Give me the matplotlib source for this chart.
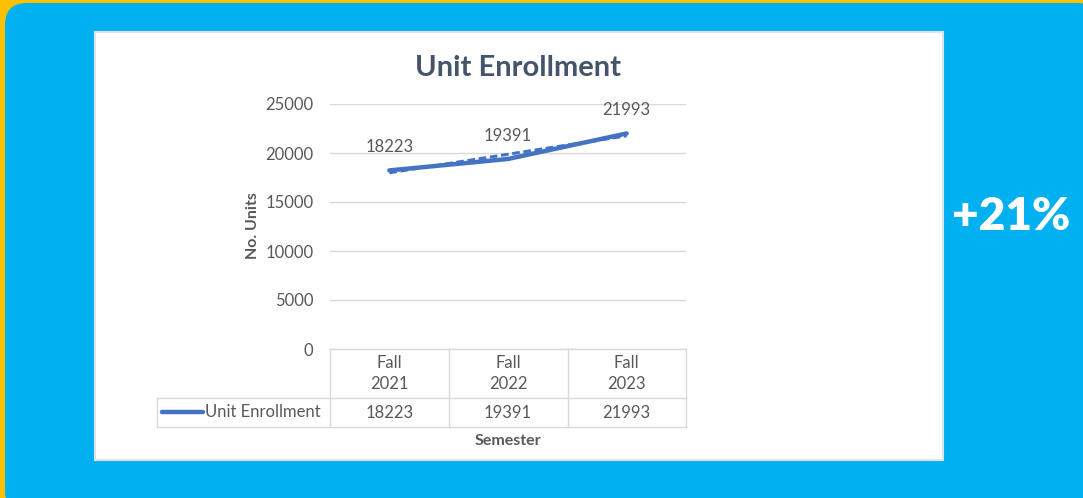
import matplotlib
matplotlib.use("Agg")
import matplotlib.pyplot as plt
from matplotlib.patches import FancyBboxPatch, Rectangle
from matplotlib.transforms import blended_transform_factory
import numpy as np

categories = ["Fall\n2021", "Fall\n2022", "Fall\n2023"]
series_name = "Unit Enrollment"
values = [18223, 19391, 21993]
yticks = [0, 5000, 10000, 15000, 20000, 25000]
title = "Unit Enrollment"
ylabel = "No. Units"
xlabel = "Semester"
badge = "+21%"

W, H = 1083, 498
FONT = "Lato"
TXT = "#595959"
LINE = "#4472C4"
GRID = "#D9D9D9"
FS = 12

fig = plt.figure(figsize=(W / 100, H / 100), dpi=100)
fig.patch.set_facecolor("#FFC000")

bg = fig.add_axes([0, 0, 1, 1])
bg.set_xlim(0, W)
bg.set_ylim(H, 0)
bg.axis("off")
bg.add_patch(FancyBboxPatch((5, 3), 1095, 510, boxstyle="round,pad=0,rounding_size=22",
                            fc="#00B0F0", ec="none"))
bg.add_patch(Rectangle((95, 32), 848, 428, fc="white", ec="#DDE3EA", lw=1.5))

# main axes
L, R, T, B = 330, 686, 104, 349
ax = fig.add_axes([L / W, (H - B) / H, (R - L) / W, (B - T) / H])
x = np.arange(len(values))
ax.plot(x, values, color=LINE, lw=3.2, solid_capstyle="round", zorder=3)
coef = np.polyfit(x, values, 1)
ax.plot(x, np.polyval(coef, x), color=LINE, lw=2.2, ls=(0, (2.5, 1.2)), zorder=2)
for xi, v in zip(x, values):
    ax.annotate(str(v), (xi, v), xytext=(0, 11), textcoords="offset points",
                ha="center", va="bottom", fontsize=FS, color=TXT, family=FONT)
ax.set_xlim(-0.5, len(values) - 0.5)
ax.set_ylim(0, 25000)
ax.set_yticks(yticks)
ax.set_yticklabels([str(t) for t in yticks], fontsize=FS, color=TXT, family=FONT)
ax.set_xticks([])
ax.grid(axis="y", color=GRID, lw=1)
ax.set_axisbelow(True)
ax.tick_params(axis="y", length=0, pad=12)
for s in ax.spines.values():
    s.set_visible(False)
ax.patch.set_alpha(0)

# data table
tr = blended_transform_factory(ax.transData, bg.transData)
row1 = (349, 398)
row2 = (398, 427)
cols = [330, 449, 568, 686]
bg.plot([330, 686], [349, 349], color=GRID, lw=1)
bg.plot([157, 686], [398, 398], color=GRID, lw=1)
bg.plot([157, 686], [427, 427], color=GRID, lw=1)
for c in cols:
    bg.plot([c, c], [349, 427], color=GRID, lw=1)
bg.plot([157, 157], [398, 427], color=GRID, lw=1)
for xi, cat, v in zip(x, categories, values):
    bg.text(xi, (row1[0] + row1[1]) / 2, cat, transform=tr, ha="center", va="center",
            fontsize=FS, color=TXT, family=FONT, linespacing=1.4)
    bg.text(xi, (row2[0] + row2[1]) / 2, str(v), transform=tr, ha="center", va="center",
            fontsize=FS, color=TXT, family=FONT)
bg.plot([162, 203], [412, 412], color=LINE, lw=3.2, solid_capstyle="round")
bg.text(205, 412, series_name, ha="left", va="center", fontsize=FS, color=TXT, family=FONT)

bg.text(518, 68, title, ha="center", va="center", fontsize=21,
        fontweight="bold", color="#44546A", family=FONT)
bg.text(253, 226, ylabel, rotation=90, ha="center", va="center", fontsize=11.5,
        fontweight="bold", color=TXT, family=FONT)
bg.text(508, 441, xlabel, ha="center", va="center", fontsize=11.5,
        fontweight="bold", color=TXT, family=FONT)
bg.text(1011, 216, badge, ha="center", va="center", fontsize=33, fontweight="heavy",
        color="white", family=FONT)

fig.savefig("out.png", dpi=100, facecolor=fig.get_facecolor())
